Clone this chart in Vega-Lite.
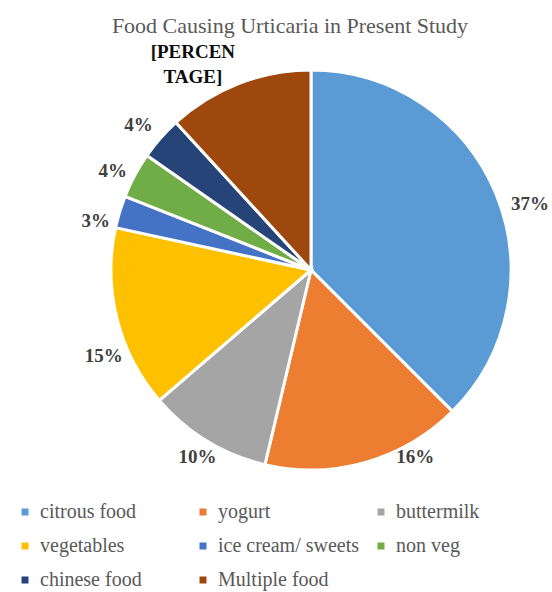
{
  "$schema": "https://vega.github.io/schema/vega-lite/v6.json",
  "autosize": "none",
  "width": 420,
  "height": 420,
  "padding": {"left": 101, "top": 60, "right": 31, "bottom": 112},
  "background": "white",
  "config": {
    "font": "Liberation Serif",
    "legend": {"labelFont": "Liberation Serif"}
  },
  "title": {
    "text": "Food Causing Urticaria in Present Study",
    "font": "Liberation Serif",
    "fontSize": 22,
    "fontWeight": "normal",
    "color": "#595959",
    "anchor": "middle",
    "dx": -21,
    "offset": -14
  },
  "data": {
    "values": [
      {"food": "citrous food", "share": 37.5, "rank": 1, "label": "37%"},
      {"food": "yogurt", "share": 16.2, "rank": 2, "label": "16%"},
      {"food": "buttermilk", "share": 10.0, "rank": 3, "label": "10%"},
      {"food": "vegetables", "share": 14.7, "rank": 4, "label": "15%"},
      {"food": "ice cream/ sweets", "share": 2.6, "rank": 5, "label": "3%"},
      {"food": "non veg", "share": 3.7, "rank": 6, "label": "4%"},
      {"food": "chinese food", "share": 3.5, "rank": 7, "label": "4%"},
      {"food": "Multiple food", "share": 11.8, "rank": 8, "label": "[PERCEN\nTAGE]"}
    ]
  },
  "encoding": {
    "theta": {"field": "share", "type": "quantitative", "stack": true},
    "order": {"field": "rank", "type": "quantitative"}
  },
  "layer": [
    {
      "mark": {"type": "arc", "outerRadius": 200, "stroke": "white", "strokeWidth": 3},
      "encoding": {
        "color": {
          "field": "food",
          "type": "nominal",
          "sort": null,
          "scale": {
            "domain": ["citrous food", "yogurt", "buttermilk", "vegetables", "ice cream/ sweets", "non veg", "chinese food", "Multiple food"],
            "range": ["#5B9BD5", "#ED7D31", "#A5A5A5", "#FFC000", "#4472C4", "#70AD47", "#264478", "#9E480E"]
          },
          "legend": {
            "title": null,
            "orient": "none",
            "legendX": -86,
            "legendY": 442,
            "direction": "horizontal",
            "columns": 3,
            "gridAlign": "all",
            "symbolType": "square",
            "symbolSize": 49,
            "symbolStrokeWidth": 0,
            "symbolOffset": 0,
            "labelOffset": 5,
            "labelFont": "Liberation Serif",
            "labelFontSize": 20,
            "labelColor": "#595959",
            "labelLimit": 300,
            "rowPadding": 14,
            "columnPadding": 11
          }
        }
      }
    },
    {
      "mark": {"type": "text", "radius": 224, "fontSize": 19, "fontWeight": "bold", "color": "#404040", "dx": 12, "dy": 20},
      "encoding": {"text": {"condition": {"test": "datum.rank === 1", "field": "label"}, "value": ""}}
    },
    {
      "mark": {"type": "text", "radius": 224, "fontSize": 19, "fontWeight": "bold", "color": "#404040", "dx": 43, "dy": -28},
      "encoding": {"text": {"condition": {"test": "datum.rank === 2", "field": "label"}, "value": ""}}
    },
    {
      "mark": {"type": "text", "radius": 224, "fontSize": 19, "fontWeight": "bold", "color": "#404040", "dx": 3, "dy": -4},
      "encoding": {"text": {"condition": {"test": "datum.rank === 3", "field": "label"}, "value": ""}}
    },
    {
      "mark": {"type": "text", "radius": 224, "fontSize": 19, "fontWeight": "bold", "color": "#404040", "dx": 10, "dy": 31},
      "encoding": {"text": {"condition": {"test": "datum.rank === 4", "field": "label"}, "value": ""}}
    },
    {
      "mark": {"type": "text", "radius": 224, "fontSize": 19, "fontWeight": "bold", "color": "#404040", "dx": -1, "dy": 16},
      "encoding": {"text": {"condition": {"test": "datum.rank === 5", "field": "label"}, "value": ""}}
    },
    {
      "mark": {"type": "text", "radius": 224, "fontSize": 19, "fontWeight": "bold", "color": "#404040", "dx": -1, "dy": 7},
      "encoding": {"text": {"condition": {"test": "datum.rank === 6", "field": "label"}, "value": ""}}
    },
    {
      "mark": {"type": "text", "radius": 224, "fontSize": 19, "fontWeight": "bold", "color": "#404040", "dx": -4, "dy": 3},
      "encoding": {"text": {"condition": {"test": "datum.rank === 7", "field": "label"}, "value": ""}}
    },
    {
      "mark": {"type": "text", "radius": 224, "fontSize": 19, "fontWeight": "bold", "color": "#0d0d0d", "dx": -37, "dy": -9, "lineBreak": "\n", "lineHeight": 25},
      "encoding": {"text": {"condition": {"test": "datum.rank === 8", "field": "label"}, "value": ""}}
    }
  ]
}
